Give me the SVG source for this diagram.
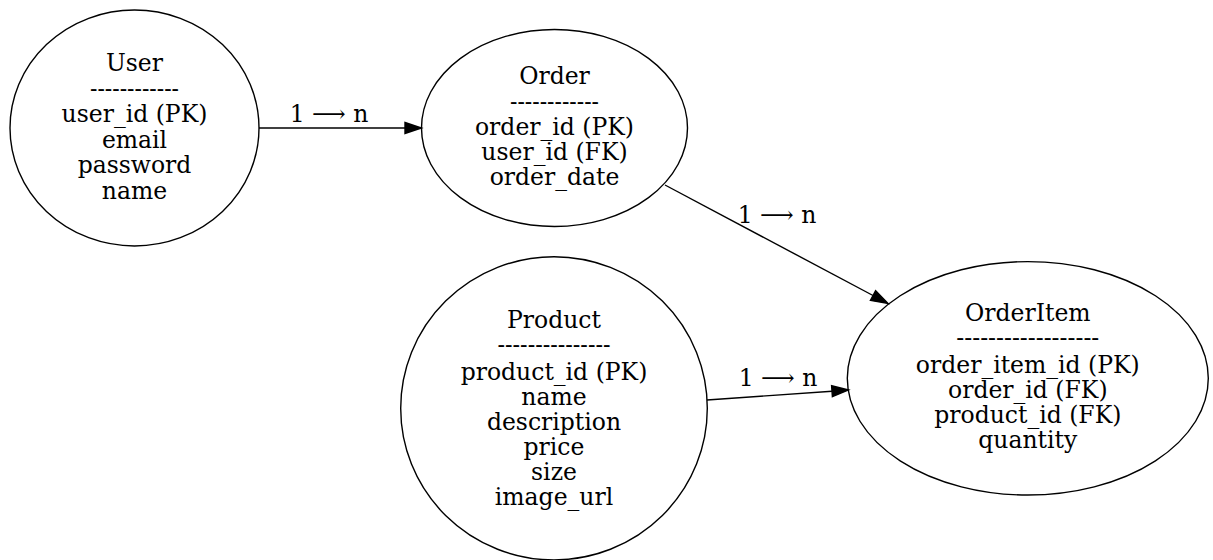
<svg xmlns="http://www.w3.org/2000/svg" width="1213" height="560" viewBox="0 0 1213 560">
<defs>
<style>
.n ellipse{fill:none;stroke:#000;stroke-width:1.4}
text{font-family:"DejaVu Serif","Liberation Serif",serif;font-size:23.5px;fill:#000;text-anchor:middle}
.e line{stroke:#000;stroke-width:1.4}
.e polygon{fill:#000;stroke:#000;stroke-width:1.4}
</style>
</defs>
<rect width="1213" height="560" fill="#fff"/>
<g id="User" class="n">
<ellipse cx="134.5" cy="128" rx="124.5" ry="118"/>
<text x="134.5" y="71">User</text>
<text x="134.5" y="96.5" textLength="89" lengthAdjust="spacingAndGlyphs">------------</text>
<text x="134.5" y="122">user_id (PK)</text>
<text x="134.5" y="147.5">email</text>
<text x="134.5" y="173">password</text>
<text x="134.5" y="198.5">name</text>
</g>
<g id="Order" class="n">
<ellipse cx="554.5" cy="128" rx="133" ry="98.5"/>
<text x="554.5" y="84">Order</text>
<text x="554.5" y="109.5" textLength="89" lengthAdjust="spacingAndGlyphs">------------</text>
<text x="554.5" y="135">order_id (PK)</text>
<text x="554.5" y="160">user_id (FK)</text>
<text x="554.5" y="185">order_date</text>
</g>
<g id="Product" class="n">
<ellipse cx="554" cy="408.3" rx="153.3" ry="151.6"/>
<text x="554" y="327.5">Product</text>
<text x="554" y="353" textLength="113" lengthAdjust="spacingAndGlyphs">---------------</text>
<text x="554" y="380">product_id (PK)</text>
<text x="554" y="404.5">name</text>
<text x="554" y="429.5">description</text>
<text x="554" y="454.5">price</text>
<text x="554" y="479.5">size</text>
<text x="554" y="504.5">image_url</text>
</g>
<g id="OrderItem" class="n">
<ellipse cx="1027.8" cy="378.3" rx="180.5" ry="116.7"/>
<text x="1027.8" y="320.5">OrderItem</text>
<text x="1027.8" y="346" textLength="143" lengthAdjust="spacingAndGlyphs">------------------</text>
<text x="1027.8" y="372.5">order_item_id (PK)</text>
<text x="1027.8" y="397.5">order_id (FK)</text>
<text x="1027.8" y="422.5">product_id (FK)</text>
<text x="1027.8" y="447.5">quantity</text>
</g>
<g id="connectors" class="e">
<line x1="259" y1="128" x2="405" y2="128"/>
<polygon points="405,122.5 421.5,128 405,133.5"/>
<text x="329" y="122">1 ⟶ n</text>
<line x1="665" y1="185" x2="873" y2="295.5"/>
<polygon points="870.4,300.4 888,303.5 875.6,290.6"/>
<text x="777" y="223">1 ⟶ n</text>
<line x1="707" y1="400" x2="832" y2="391.2"/>
<polygon points="832.4,396.7 848.5,390 831.6,385.7"/>
<text x="778" y="386">1 ⟶ n</text>
</g>
</svg>
